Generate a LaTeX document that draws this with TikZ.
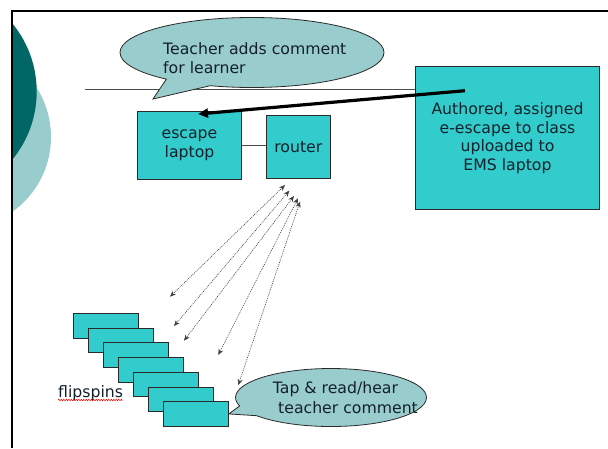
\documentclass[tikz,border=0pt]{standalone}
\usepackage{fontspec}
\setmainfont{DejaVu Sans}
\usetikzlibrary{shapes.callouts,arrows.meta,decorations.pathmorphing}
\definecolor{boxteal}{HTML}{33CCCC}
\definecolor{calloutfill}{HTML}{99CCCC}
\definecolor{darkteal}{HTML}{006666}
\definecolor{lightteal}{HTML}{99CCCC}
\definecolor{ink}{HTML}{14202B}
\definecolor{edgegray}{HTML}{2A2A2A}
\begin{document}
\begin{tikzpicture}[x=1pt,y=-1pt,
  every node/.style={font=\fontsize{15.7}{18.5}\selectfont, text=ink},
  tbox/.style={draw=edgegray, fill=boxteal, line width=0.9pt, inner sep=0pt, align=center},
  flip/.style={draw=edgegray, fill=boxteal, line width=0.9pt, inner sep=0pt, minimum width=65pt, minimum height=24.5pt},
  bubble/.style={ellipse callout, draw=edgegray, fill=calloutfill, line width=0.8pt, inner sep=0pt, callout pointer arc=22},
  txt/.style={inner sep=0pt, anchor=base west},
  wifi/.style={draw=black!75, line width=0.6pt, dash pattern=on 1pt off 1pt,
    {Stealth[length=6pt,width=5pt]}-{Stealth[length=6pt,width=5pt]}},
  thick arrow/.style={draw=black, line width=3.2pt, -{Triangle[length=10pt,width=9pt]}},
  plain/.style={draw=black!70, line width=0.8pt}
]
\useasboundingbox (0,0) rectangle (608,448);
% background circles
\begin{scope}
  \clip (12,11) rectangle (200,448);
  \fill[lightteal] (-40.6,137) circle (91.6pt);
  \fill[darkteal] (-70.6,91.5) circle (107.3pt);
\end{scope}
% frame
\draw[line width=2.7pt] (12,448) -- (12,11) -- (608,11);

% boxes
\node[tbox, minimum width=104.4pt, minimum height=68pt] (esc) at (189.5,145) {escape\\laptop};
\node[tbox, minimum width=63.3pt, minimum height=62.6pt] (router) at (298.3,147) {router};
\node[tbox, minimum width=183.6pt, minimum height=142.6pt] (big) at (507.5,138)
  {Authored, assigned\\e-escape to class\\uploaded to\\EMS laptop};

% lines
\coordinate (hl) at (85,89.3);
\draw[plain] (hl) -- (hl -| big.west);
\draw[plain] (esc.east) -- (esc.east -| router.west);

% callout 1
\node[bubble, minimum width=264pt, minimum height=70pt, callout absolute pointer={(153,99)}] (c1) at (252,52.5) {};
\node[txt] (c1a) at (163,54) {Teacher adds comment};
\node[txt] (c1b) at (163,73) {for learner};

% thick arrow
\coordinate (ta) at (465,90.7);
\coordinate (tb) at (198,114);
\draw[thick arrow] (ta) -- (tb);

% flipspins
\foreach \k in {0,...,6} {
  \node[flip, anchor=north west] (f\k) at (73+15.0*\k, 313+14.7*\k) {};
}
\node[txt] (flab) at (58,397) {flipspins};
\draw[red, line width=0.5pt, decorate, decoration={snake, amplitude=0.7pt, segment length=2.5pt}] (flab.base west) ++(0,3) -- ++(65,0);

% callout 2
\node[bubble, minimum width=191pt, minimum height=58pt, callout absolute pointer={(f6.east)}] (c2) at (331,397.5) {};
\node[txt] (c2a) at (272.7,393.3) {Tap \& read/hear};
\node[txt] (c2b) at (278,413.3) {teacher comment};

% wireless arrows
\coordinate (u1) at (285,185);   \coordinate (l1) at (170,296.7);
\coordinate (u2) at (289.3,190.7); \coordinate (l2) at (174,326);
\coordinate (u3) at (294,196);   \coordinate (l3) at (184,340.7);
\coordinate (u4) at (298,198.3); \coordinate (l4) at (218.3,355);
\coordinate (u5) at (300,201.7); \coordinate (l5) at (238.3,385);
\foreach \i in {1,...,5} { \draw[wifi] (u\i) -- (l\i); }
\end{tikzpicture}
\end{document}
